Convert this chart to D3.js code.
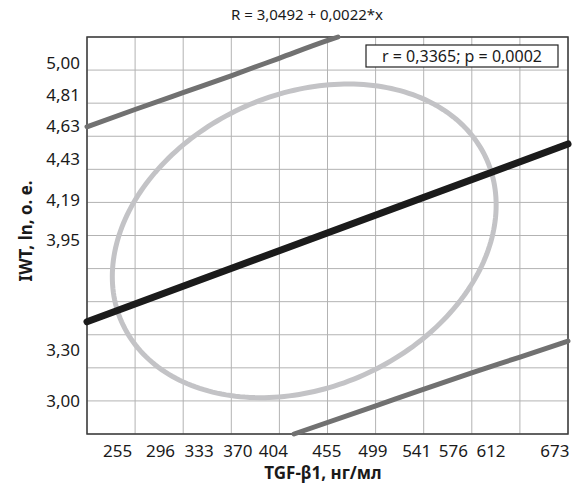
<!DOCTYPE html>
<html><head><meta charset="utf-8">
<script src="https://cdn.jsdelivr.net/npm/d3@7"></script>
<style>body{margin:0;background:#fff}</style>
</head><body><svg id="c" width="577" height="485"></svg>
<script>
// ---- data ----
const xTickLabels = [255, 296, 333, 370, 404, 455, 499, 541, 576, 612, 673];
const yTickLabels = [5.00, 4.81, 4.63, 4.43, 4.19, 3.95, 3.30, 3.00];
const xDomain = [226.2, 686.1];
const yDomain = [2.805, 5.154];
const fitX = [226.2, 686.1];
const fitY = [3.469, 4.521];
const upperBandX = [226.2, 272.1, 318.0, 364.6, 409.8, 455.7, 466.2];
const upperBandY = [4.623, 4.725, 4.825, 4.926, 5.028, 5.132, 5.154];
const lowerBandX = [424.1, 501.6, 547.7, 594.0, 639.5, 686.1];
const lowerBandY = [2.805, 2.970, 3.069, 3.167, 3.259, 3.355];
const ellipseCenter = [433.9, 3.948];
const ellipseRadius = [183.5, 0.928];
const ellipsePhase = 0.23;
const titleText = "R = 3,0492 + 0,0022*x";
const statText = "r = 0,3365; p = 0,0002";
const xTitle = "TGF-β1, нг/мл";
const yTitle = "IWT, ln, о. е.";
const xGridCount = 10, yGridCount = 12;

// ---- layout ----
const W = 577, H = 485;
const m = {left: 87, right: 9, top: 37, bottom: 51};
const font = "'Noto Sans', 'Open Sans', sans-serif";
const svg = d3.select("#c");
const x = d3.scaleLinear().domain(xDomain).range([m.left, W - m.right]);
const y = d3.scaleLinear().domain(yDomain).range([H - m.bottom, m.top]);
const fmt = v => d3.format(".2f")(v).replace(".", ",");

// grid
const gx = d3.range(xGridCount + 1).map(i => xDomain[0] + i * (xDomain[1] - xDomain[0]) / xGridCount);
const gy = d3.range(yGridCount + 1).map(i => yDomain[0] + i * (yDomain[1] - yDomain[0]) / yGridCount);
const grid = svg.append("g").attr("stroke", "#b3b3b3").attr("stroke-width", 1);
grid.selectAll(".vx").data(gx).join("line")
  .attr("x1", d => x(d)).attr("x2", d => x(d)).attr("y1", y.range()[1]).attr("y2", y.range()[0]);
grid.selectAll(".hy").data(gy).join("line")
  .attr("y1", d => y(d)).attr("y2", d => y(d)).attr("x1", x.range()[0]).attr("x2", x.range()[1]);

// frame
svg.append("rect").attr("x", x.range()[0]).attr("y", y.range()[1])
  .attr("width", x.range()[1] - x.range()[0]).attr("height", y.range()[0] - y.range()[1])
  .attr("fill", "none").attr("stroke", "#3a3a3a").attr("stroke-width", 1.5);

// ellipse
const ell = d3.range(0, 2 * Math.PI + 0.001, Math.PI / 120).map(t => [
  ellipseCenter[0] + ellipseRadius[0] * Math.cos(t),
  ellipseCenter[1] + ellipseRadius[1] * Math.sin(t + ellipsePhase)]);
const line = d3.line().x(d => x(d[0])).y(d => y(d[1]));
svg.append("path").datum(ell).attr("d", line.curve(d3.curveLinearClosed))
  .attr("fill", "none").attr("stroke", "#c3c3c6").attr("stroke-width", 5);

// bands
const bandLine = d3.line().x(d => x(d[0])).y(d => y(d[1])).curve(d3.curveMonotoneX);
[[upperBandX, upperBandY], [lowerBandX, lowerBandY]].forEach(([bx, by]) => {
  svg.append("path").datum(bx.map((v, i) => [v, by[i]])).attr("d", bandLine)
    .attr("fill", "none").attr("stroke", "#717171").attr("stroke-width", 5)
    .attr("stroke-linecap", "round");
});

// regression line
svg.append("path").datum(fitX.map((v, i) => [v, fitY[i]]))
  .attr("d", d3.line().x(d => x(d[0])).y(d => y(d[1])))
  .attr("fill", "none").attr("stroke", "#1b1b1b").attr("stroke-width", 7)
  .attr("stroke-linecap", "round");

// axes
const xa = svg.append("g").attr("transform", `translate(0,${y.range()[0]})`)
  .call(d3.axisBottom(x).tickValues(xTickLabels).tickSize(0).tickPadding(11).tickFormat(d3.format("d")));
const ya = svg.append("g").attr("transform", `translate(${x.range()[0]},0)`)
  .call(d3.axisLeft(y).tickValues(yTickLabels).tickSize(0).tickPadding(7).tickFormat(fmt));
[xa, ya].forEach(a => {
  a.select(".domain").remove();
  a.selectAll("text").attr("font-family", font).attr("font-size", 17).attr("fill", "#1a1a1a");
});

// titles
svg.append("text").attr("x", 307).attr("y", 20).attr("text-anchor", "middle")
  .attr("font-family", font).attr("font-size", 15).attr("fill", "#1a1a1a").text(titleText);
svg.append("text").attr("x", 323).attr("y", 479).attr("text-anchor", "middle")
  .attr("font-family", font).attr("font-size", 17).attr("font-weight", "bold").attr("fill", "#1a1a1a").text(xTitle);
svg.append("text").attr("transform", "translate(32,231) rotate(-90)").attr("text-anchor", "middle")
  .attr("font-family", font).attr("font-size", 17).attr("font-weight", "bold").attr("fill", "#1a1a1a").text(yTitle);

// stat box
svg.append("rect").attr("x", 366).attr("y", 45).attr("width", 192).attr("height", 22)
  .attr("fill", "#fff").attr("stroke", "#222").attr("stroke-width", 1.2);
svg.append("text").attr("x", 462).attr("y", 62).attr("text-anchor", "middle")
  .attr("font-family", font).attr("font-size", 16).attr("fill", "#1a1a1a").text(statText);
</script></body></html>
